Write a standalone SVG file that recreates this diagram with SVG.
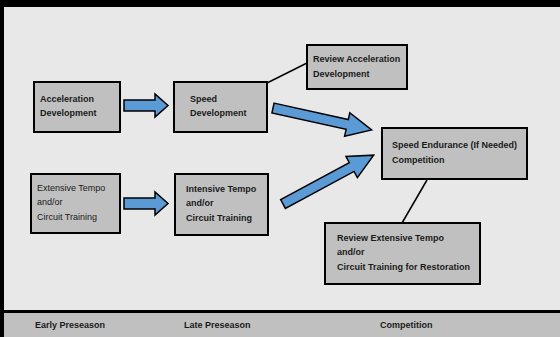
<svg xmlns="http://www.w3.org/2000/svg" width="560" height="337" viewBox="0 0 560 337">
<style>
.box{fill:#c0c0c0;stroke:#000;stroke-width:2}
.t{font-family:"Liberation Sans",Arial,sans-serif;font-size:9px;font-weight:bold;fill:#1a1a1a}
.r{font-weight:normal}
.arr{fill:#5b9bd5;stroke:#000;stroke-width:1.5;stroke-linejoin:miter}
.ln{stroke:#000;stroke-width:1.5;fill:none}
</style>
<rect x="0" y="0" width="560" height="337" fill="#e8e8e8"/>
<rect x="0" y="0" width="560" height="7" fill="#000"/>
<rect x="0" y="313" width="560" height="24" fill="#c0c0c0"/>
<rect x="0" y="310" width="560" height="3" fill="#000"/>
<rect x="0" y="0" width="4" height="337" fill="#000"/>
<g id="connectors">
<path class="arr" d="M124,100 H155 V94 L168,105.5 L155,117 V111 H124 Z"/>
<path class="arr" d="M124,198 H155 V192 L168,203.5 L155,215 V209 H124 Z"/>
<path class="arr" transform="translate(273,108) rotate(12.5)" d="M0,-5 H76 V-12 L101,0 L76,12 V5 H0 Z"/>
<path class="arr" transform="translate(283,204) rotate(-28.3)" d="M0,-5 H78 V-12 L103,0 L78,12 V5 H0 Z"/>
<line class="ln" x1="267" y1="83" x2="307" y2="63"/>
<line class="ln" x1="427" y1="180" x2="402" y2="223"/>
</g>
<g id="accel">
<rect class="box" x="34" y="82" width="86" height="50"/>
<text class="t" x="40" y="102">Acceleration</text>
<text class="t" x="40" y="116">Development</text>
</g>
<g id="speed">
<rect class="box" x="174" y="82" width="93" height="50"/>
<text class="t" x="190" y="102">Speed</text>
<text class="t" x="190" y="116">Development</text>
</g>
<g id="extensive">
<rect class="box" x="31" y="174" width="89" height="59"/>
<text class="t r" x="37" y="191">Extensive Tempo</text>
<text class="t r" x="37" y="205">and/or</text>
<text class="t r" x="37" y="220">Circuit Training</text>
</g>
<g id="intensive">
<rect class="box" x="175" y="174" width="93" height="61"/>
<text class="t" x="186" y="192">Intensive Tempo</text>
<text class="t" x="186" y="206">and/or</text>
<text class="t" x="186" y="221">Circuit Training</text>
</g>
<g id="review-accel">
<rect class="box" x="307" y="45" width="100" height="44"/>
<text class="t" x="313" y="62">Review Acceleration</text>
<text class="t" x="313" y="77">Development</text>
</g>
<g id="endurance">
<rect class="box" x="382" y="128" width="145" height="51"/>
<text class="t" x="392" y="148">Speed Endurance (If Needed)</text>
<text class="t" x="392" y="163">Competition</text>
</g>
<g id="review-ext">
<rect class="box" x="325" y="223" width="155" height="61"/>
<text class="t" x="337" y="241">Review Extensive Tempo</text>
<text class="t" x="337" y="255">and/or</text>
<text class="t" x="337" y="270">Circuit Training for Restoration</text>
</g>
<g id="phases">
<text class="t" x="35" y="328">Early Preseason</text>
<text class="t" x="184" y="328">Late Preseason</text>
<text class="t" x="380" y="328">Competition</text>
</g>
</svg>
